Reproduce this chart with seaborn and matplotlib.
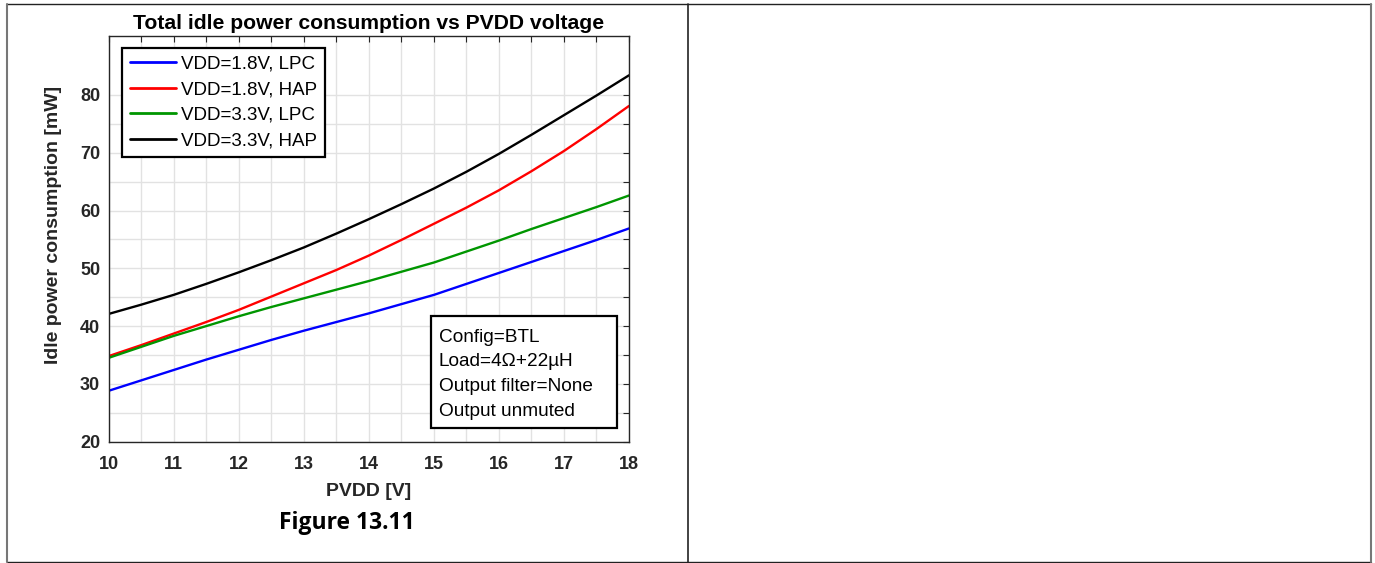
import numpy as np
import pandas as pd
import matplotlib
matplotlib.use("Agg")
import matplotlib.pyplot as plt
import seaborn as sns
from matplotlib.lines import Line2D
from matplotlib.patches import Rectangle
from matplotlib.ticker import FixedLocator

# ---------------- data ----------------
pvdd = [10, 10.5, 11, 11.5, 12, 12.5, 13, 13.5, 14, 14.5, 15, 15.5, 16, 16.5, 17, 17.5, 18]
vdd18_lpc = [28.8, 30.6, 32.4, 34.2, 35.9, 37.6, 39.2, 40.7, 42.2, 43.8, 45.4, 47.3, 49.2, 51.1, 53.0, 54.9, 56.9]
vdd18_hap = [34.8, 36.7, 38.7, 40.7, 42.8, 45.1, 47.4, 49.7, 52.2, 54.9, 57.7, 60.5, 63.5, 66.8, 70.3, 74.1, 78.1]
vdd33_lpc = [34.5, 36.4, 38.3, 40.0, 41.7, 43.3, 44.8, 46.3, 47.8, 49.4, 51.0, 52.9, 54.8, 56.8, 58.7, 60.6, 62.6]
vdd33_hap = [42.1, 43.7, 45.4, 47.3, 49.3, 51.4, 53.6, 56.0, 58.5, 61.1, 63.8, 66.7, 69.8, 73.1, 76.5, 79.9, 83.4]

series_labels = ["VDD=1.8V, LPC", "VDD=1.8V, HAP", "VDD=3.3V, LPC", "VDD=3.3V, HAP"]
series_colors = ["#0000ff", "#ff0000", "#009600", "#000000"]
x_ticks = [10, 11, 12, 13, 14, 15, 16, 17, 18]
y_ticks = [20, 30, 40, 50, 60, 70, 80]
info_lines = ["Config=BTL", "Load=4\u03a9+22\u00b5H", "Output filter=None", "Output unmuted"]

title = "Total idle power consumption vs PVDD voltage"
xlabel = "PVDD [V]"
ylabel = "Idle power consumption [mW]"
caption = "Figure 13.11"

# ---------------- style ----------------
sns.set_theme(style="white")
plt.rcParams["font.family"] = ["Liberation Sans", "DejaVu Sans"]

W, H = 1375, 563
fig = plt.figure(figsize=(W / 100, H / 100), dpi=100)
fig.patch.set_facecolor("white")

ax_l, ax_r, ax_t, ax_b = 108.5, 629.0, 36.0, 441.7
ax = fig.add_axes([ax_l / W, (H - ax_b) / H, (ax_r - ax_l) / W, (ax_b - ax_t) / H])

df = pd.concat([
    pd.DataFrame({"PVDD": pvdd, "P": vals, "Series": lab})
    for vals, lab in zip([vdd18_lpc, vdd18_hap, vdd33_lpc, vdd33_hap], series_labels)
], ignore_index=True)

sns.lineplot(data=df, x="PVDD", y="P", hue="Series", hue_order=series_labels,
             palette=dict(zip(series_labels, series_colors)), linewidth=1.7,
             ax=ax, legend=False, sort=False)

ax.set_xlim(10, 18)
ax.set_ylim(20, 90.2)
ax.xaxis.set_major_locator(FixedLocator(x_ticks))
ax.xaxis.set_minor_locator(FixedLocator([t + 0.5 for t in x_ticks[:-1]]))
ax.yaxis.set_major_locator(FixedLocator(y_ticks))
ax.yaxis.set_minor_locator(FixedLocator([t + 5 for t in y_ticks[:-1]]))

grid_c = "#e2e2e2"
ax.grid(True, which="both", color=grid_c, linewidth=1.0)
ax.set_axisbelow(True)
for s in ax.spines.values():
    s.set_color("#262626")
    s.set_linewidth(1.0)
ax.tick_params(which="both", direction="in", top=True, right=True, length=4,
               width=0.8, color="#262626")
ax.tick_params(axis="y", which="major", pad=6)
ax.tick_params(axis="x", which="major", pad=10)
for lab in ax.get_xticklabels() + ax.get_yticklabels():
    lab.set_fontweight("bold")
    lab.set_fontsize(13)
    lab.set_color("#262626")

ax.set_title(title, fontsize=15.2, fontweight="bold", color="black", pad=5)
ax.set_xlabel(xlabel, fontsize=14, fontweight="bold", color="#262626")
ax.set_ylabel(ylabel, fontsize=14, fontweight="bold", color="#262626")
ax.xaxis.set_label_coords(0.5, (ax_b - 483) / (ax_b - ax_t))
ax.yaxis.set_label_coords((62 - ax_l) / (ax_r - ax_l), (ax_b - 225) / (ax_b - ax_t))

# legend
handles = ax.get_lines()[:4]
leg = ax.legend(handles, series_labels, loc="upper left",
                bbox_to_anchor=((122 - ax_l) / (ax_r - ax_l), (ax_b - 48) / (ax_b - ax_t)),
                borderaxespad=0, fontsize=13.5, frameon=True, fancybox=False,
                framealpha=1, handlelength=2.5, handletextpad=0.27,
                borderpad=0.4, labelspacing=0.45, labelcolor="black")
leg.get_frame().set_edgecolor("black")
leg.get_frame().set_linewidth(1.6)
for h in leg.legend_handles:
    h.set_linewidth(2.0)

# info box
bx0, bx1, by0, by1 = 430.7, 617.3, 316.0, 428.3
def axx(px):
    return (px - ax_l) / (ax_r - ax_l)
def axy(py):
    return (ax_b - py) / (ax_b - ax_t)
ax.add_patch(Rectangle((axx(bx0), axy(by1)), axx(bx1) - axx(bx0), axy(by0) - axy(by1),
                       transform=ax.transAxes, facecolor="white", edgecolor="black",
                       linewidth=1.6, zorder=5))
baselines = [341.7, 366.5, 391.3, 416.0]
for txt, yb in zip(info_lines, baselines):
    ax.text(axx(439), axy(yb), txt, transform=ax.transAxes, fontsize=13.7,
            va="baseline", ha="left", color="black", zorder=6)

# caption
fig.text(347 / W, 1 - 523 / H, caption, ha="center", va="center",
         fontsize=16.5, fontweight="bold", family=["Open Sans", "DejaVu Sans"], color="black")

# table borders
def fline(x0, y0, x1, y1, color, lw):
    fig.add_artist(Line2D([x0 / W, x1 / W], [1 - y0 / H, 1 - y1 / H],
                          transform=fig.transFigure, color=color, linewidth=lw))
fline(6.5, 3.5, 1370.5, 3.5, "#222222", 1.0)
fline(6.5, 561.5, 1370.5, 561.5, "#222222", 1.0)
fline(6.5, 3.5, 6.5, 561.5, "#777777", 1.5)
fline(1370.5, 3.5, 1370.5, 561.5, "#777777", 1.5)
fline(688, 3.5, 688, 561.5, "#222222", 1.2)

fig.savefig("out.png", dpi=100, facecolor="white")
